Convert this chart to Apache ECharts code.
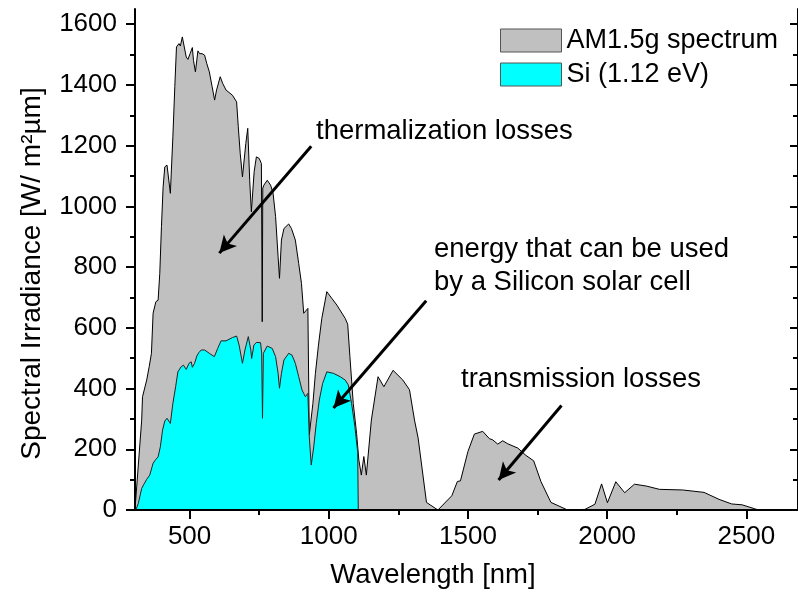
<!DOCTYPE html>
<html><head><meta charset="utf-8">
<script src="https://cdn.jsdelivr.net/npm/echarts@6/dist/echarts.min.js"></script>
<style>html,body{margin:0;padding:0;background:#fff}#c{width:798px;height:601px}</style>
</head><body><div id="c"></div>
<script>
// AM1.5g spectrum (wavelength nm, irradiance W/m2um)
const amWl = [304, 328, 331, 336, 346, 355, 363, 369, 379, 387, 393, 399, 405, 411, 419, 431, 440, 447, 453, 462, 467, 474, 480, 488, 494, 502, 510, 514, 521, 530, 536, 545, 554, 562, 571, 581, 590, 597, 610, 619, 631, 654, 669, 675, 682, 690, 702, 709, 716, 722, 732, 740, 750, 758, 761, 763, 767, 779, 791, 800, 809, 818, 823, 830, 839, 856, 866, 880, 892, 902, 910, 916, 925, 930, 936, 943, 952, 963, 975, 993, 1011, 1029, 1059, 1068, 1076, 1088, 1100, 1108, 1117, 1126, 1135, 1153, 1177, 1198, 1231, 1266, 1290, 1308, 1321, 1351, 1392, 1442, 1462, 1473, 1500, 1523, 1553, 1577, 1589, 1607, 1625, 1643, 1679, 1708, 1736, 1762, 1798, 1858, 1920, 1956, 1980, 2001, 2031, 2063, 2098, 2140, 2188, 2271, 2348, 2402, 2447, 2485, 2530, 2545, 2686];
const amVal = [2, 296, 373, 379, 428, 472, 516, 648, 686, 691, 779, 933, 1064, 1130, 1136, 1043, 1229, 1394, 1525, 1536, 1528, 1558, 1564, 1492, 1484, 1503, 1523, 1481, 1443, 1512, 1503, 1503, 1498, 1470, 1443, 1394, 1350, 1383, 1427, 1405, 1383, 1366, 1344, 1262, 1174, 1097, 1207, 1257, 1086, 982, 1114, 1163, 1158, 1141, 620, 1060, 1070, 1086, 1070, 1043, 966, 834, 763, 889, 927, 942, 927, 889, 812, 746, 648, 648, 664, 247, 252, 351, 450, 543, 631, 719, 697, 675, 631, 612, 505, 351, 252, 165, 115, 176, 115, 296, 439, 406, 460, 428, 396, 296, 237, 25, 0, 47, 94, 96, 193, 250, 259, 235, 231, 217, 228, 218, 204, 180, 162, 94, 25, 0, 2, 19, 86, 24, 93, 57, 85, 79, 68, 66, 58, 35, 20, 17, 4, 0, 0];
// Part usable by a Si cell (1.12 eV)
const siWl = [307, 316, 328, 336, 346, 357, 369, 379, 387, 395, 403, 411, 419, 431, 440, 450, 458, 470, 478, 488, 498, 506, 510, 518, 526, 533, 542, 554, 571, 589, 601, 613, 631, 654, 669, 678, 690, 699, 711, 720, 723, 731, 740, 755, 759, 762, 765, 779, 797, 809, 818, 823, 830, 839, 856, 868, 880, 892, 904, 916, 925, 930, 937, 946, 955, 966, 978, 993, 1017, 1041, 1059, 1070, 1082, 1094, 1104, 1106];
const siVal = [0, 22, 71, 85, 101, 115, 154, 167, 175, 208, 263, 293, 302, 285, 351, 406, 455, 472, 477, 463, 483, 488, 470, 483, 507, 518, 527, 527, 516, 505, 532, 557, 557, 568, 573, 543, 483, 527, 571, 527, 499, 543, 552, 551, 516, 302, 516, 540, 532, 505, 450, 401, 450, 494, 516, 510, 483, 439, 395, 373, 384, 241, 148, 208, 285, 362, 417, 455, 450, 439, 428, 412, 351, 274, 190, 0];
const xMajor = [500, 1000, 1500, 2000, 2500];
const xMinor = [750, 1250, 1750, 2250];
const yMajor = [0, 200, 400, 600, 800, 1000, 1200, 1400, 1600];
const yMinor = [100, 300, 500, 700, 900, 1100, 1300, 1500];

const FONT = '"Liberation Sans", Arial, sans-serif';
const amData = amWl.map((w, i) => [w, amVal[i]]);
const siData = siWl.map((w, i) => [w, siVal[i]]);
const xMin = 304, xMax = 2685.5, yMin = 0, yMax = 1650;
const blk = {color: '#000', width: 2};
const plain = v => String(v);

function xAx(pos, vals, len, inside, labels, line) {
  return {type: 'value', position: pos, min: xMin, max: xMax, z: 10,
    axisLine: {show: line, lineStyle: blk}, splitLine: {show: false},
    axisTick: {show: true, inside: inside, customValues: vals, length: len, lineStyle: blk},
    axisLabel: labels ? {show: true, customValues: vals, formatter: plain, margin: 14, fontSize: 26, fontFamily: FONT, color: '#000'} : {show: false}};
}
function yAx(pos, vals, len, inside, labels, line) {
  return {type: 'value', position: pos, min: yMin, max: yMax, z: 10,
    axisLine: {show: line, lineStyle: blk}, splitLine: {show: false},
    axisTick: {show: true, inside: inside, customValues: vals, length: len, lineStyle: blk},
    axisLabel: labels ? {show: true, customValues: vals, formatter: plain, margin: 18, fontSize: 26, fontFamily: FONT, color: '#000'} : {show: false}};
}
const xAxes = [xAx('bottom', xMajor, 9, false, true, true), xAx('bottom', xMinor, 5, false, false, false),
  xAx('top', xMajor, 8, true, false, true), xAx('top', xMinor, 5, true, false, false)];
Object.assign(xAxes[0], {name: 'Wavelength [nm]', nameLocation: 'middle', nameGap: 51,
  nameTextStyle: {fontSize: 27.5, fontFamily: FONT, color: '#000', padding: [0, 67, 0, 0]}});
const yAxes = [yAx('left', yMajor, 9, false, true, true), yAx('left', yMinor, 5, false, false, false),
  yAx('right', yMajor, 8, true, false, true), yAx('right', yMinor, 5, true, false, false)];
Object.assign(yAxes[0], {name: 'Spectral Irradiance [W/ m\u00B2\u00B5m]', nameLocation: 'middle', nameGap: 89,
  nameTextStyle: {fontSize: 28, fontFamily: FONT, color: '#000', padding: [0, 28, 0, 0]}});

const txt = (s, x, y) => ({type: 'text', x: x, y: y, z: 100,
  style: {text: s, fontSize: 27.5, fontFamily: FONT, fill: '#000', align: 'left', verticalAlign: 'middle'}});

const option = {
  animation: false,
  grid: {left: 135, top: 9, width: 668, height: 501},
  legend: {left: 500, top: 27, orient: 'vertical', padding: 0, itemGap: 7, itemWidth: 61, itemHeight: 23,
    icon: 'rect', selectedMode: false,
    textStyle: {fontSize: 27, fontFamily: FONT, color: '#000'},
    itemStyle: {borderColor: '#555', borderWidth: 1},
    data: [{name: 'AM1.5g spectrum'}, {name: 'Si (1.12 eV)'}]},
  xAxis: xAxes,
  yAxis: yAxes,
  series: [
    {type: 'line', name: 'AM1.5g spectrum', data: amData, symbol: 'none', showSymbol: false, z: 2,
      lineStyle: {color: '#000', width: 1}, itemStyle: {color: '#c0c0c0'},
      areaStyle: {color: '#c0c0c0', opacity: 1}},
    {type: 'line', name: 'Si (1.12 eV)', data: siData, symbol: 'none', showSymbol: false, z: 3,
      lineStyle: {color: '#222', width: 1}, itemStyle: {color: '#00ffff'},
      areaStyle: {color: '#00ffff', opacity: 1},
      markLine: {silent: true, symbol: ['none', 'arrow'], symbolSize: [13, 17], animation: false,
        label: {show: false}, lineStyle: {color: '#000', width: 3, type: 'solid'},
        emphasis: {disabled: true},
        data: [
          [{coord: [937, 1198]}, {coord: [607, 846]}],
          [{coord: [1350, 689]}, {coord: [1017, 336]}],
          [{coord: [1836, 344]}, {coord: [1610, 99]}]
        ]}}
  ],
  graphic: [
    txt('thermalization losses', 316, 131),
    txt('energy that can be used', 434, 249),
    txt('by a Silicon solar cell', 434, 282),
    txt('transmission losses', 461, 379)
  ]
};
const chart = echarts.init(document.getElementById('c'));
chart.setOption(option);
</script></body></html>
